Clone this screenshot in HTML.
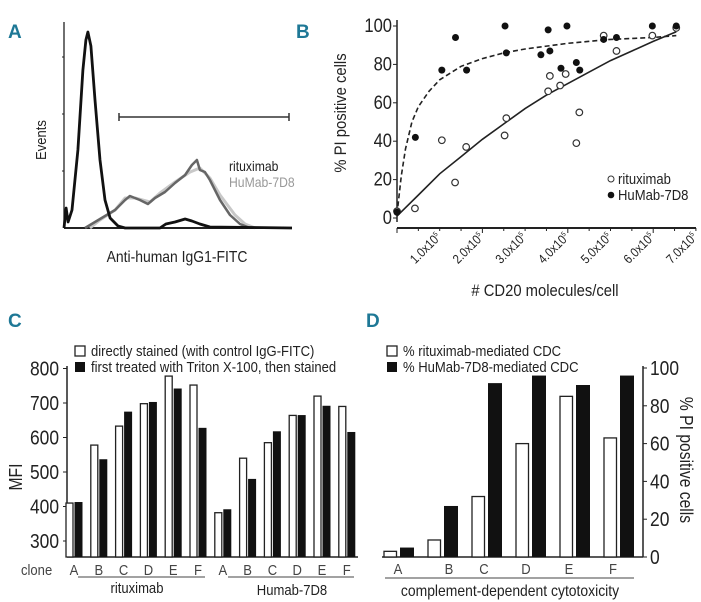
<!DOCTYPE html>
<html><head><meta charset="utf-8">
<style>
html,body{margin:0;padding:0;background:#fff;}
svg{display:block;}
text{font-family:"Liberation Sans Narrow","Liberation Sans",sans-serif;fill:#222;}
.pl{font-family:"Liberation Sans",sans-serif;font-weight:bold;fill:#1e7896;font-size:19px;}
</style></head>
<body>
<svg id="fig" width="701" height="602" viewBox="0 0 701 602" xmlns="http://www.w3.org/2000/svg">
<text class="pl" x="8" y="38">A</text>
<text class="pl" x="296" y="38">B</text>
<text class="pl" x="8" y="327">C</text>
<text class="pl" x="366" y="327">D</text>
<g id="pA"></g>
<g id="pB"></g>
<g id="pC"></g>
<g id="pD"></g>
</svg>
<script>
// ---------- Panel A data (channel 0-100, events 0-100)
const aControlX=[0,0.9,1.8,3.5,6.1,8.3,9.6,10.5,11.8,13.6,15.8,18,20.2,23.7,26.8,42.1,44.7,48.7,53.1,56.1,59.6,64,100];
const aControlY=[0,10,3,9,39,79,94,98,91,64,34,14,5,1,0,0,2,3,4.5,3.5,2,0.5,0];
const aRituxX=[9.2,13.6,18,22.4,26.8,28.9,33.3,36.8,39.9,44.3,48.7,53.1,56.1,58.3,59.6,61.8,64,68.4,72.8,77.2,81.6];
const aRituxY=[0,3,6,9,14,16,14,12,15,18,22.5,26.5,31.5,34,29,28,24,14,6.5,2,0];
const aHumabX=[11.4,15.8,22.4,26.8,31.1,37.7,42.1,48.7,55.3,59.6,64,68.4,75,79.4,83.8];
const aHumabY=[0,4,9,15,15,13,17.5,23,28,30,25,16.5,6.5,2,0];
// ---------- Panel B data (x in 1e5 molecules, y in %)
const bRituxX=[0,0.42,1.05,1.36,1.62,2.52,2.56,3.54,3.58,3.82,3.95,4.2,4.27,4.84,5.14,5.98,6.54];
const bRituxY=[3.5,5,40.5,18.5,37,43,52,66,74,69,75,39,55,95,87,95,99];
const bHumabX=[0,0.43,1.05,1.37,1.63,2.53,2.56,3.37,3.54,3.58,3.84,3.98,4.2,4.28,4.84,5.14,5.98,6.54];
const bHumabY=[3,42,77,94,77,100,86,85,98,87,78,100,81,77,93,94,100,100];
const bFitRX=[0,0.5,1,1.5,2,2.5,3,3.5,4,4.5,5,5.5,6,6.54];
const bFitRY=[1,12,23,32,41,49,57,64,70,76,82,87,92,97];
const bFitHX=[0,0.1,0.2,0.35,0.5,0.75,1,1.5,2,2.5,3,4,5,6,6.54];
const bFitHY=[2,22,36,50,58,66,72,79,83,86,88,91,93,94,95];
const bTicks=["1.0x10","2.0x10","3.0x10","4.0x10","5.0x10","6.0x10","7.0x10"];
// ---------- Panel C data
const cClones=["A","B","C","D","E","F","A","B","C","D","E","F"];
const cDirect=[410,578,633,698,778,752,382,540,585,664,720,690];
const cTriton=[413,537,675,703,742,628,392,480,618,665,692,616];
const cTicks=[300,400,500,600,700,800];
// ---------- Panel D data
const dClones=["A","B","C","D","E","F"];
const dRitux=[3,9,32,60,85,63];
const dHumab=[5,27,92,96,91,96];
const dTicks=[0,20,40,60,80,100];

const NS="http://www.w3.org/2000/svg";
function mk(parent,tag,attrs,txt){const e=document.createElementNS(NS,tag);for(const k in attrs)e.setAttribute(k,attrs[k]);if(txt!==undefined)e.textContent=txt;parent.appendChild(e);return e;}

// ===== Panel A
(function(){
const g=document.getElementById('pA');
const X=u=>64+u*2.28, Y=v=>228-v*2;
let e;
e=mk(g,'line',{x1:64,y1:22,x2:64,y2:228,stroke:'#222','stroke-width':1.3});


e=mk(g,'line',{x1:64,y1:228,x2:292,y2:228,stroke:'#222','stroke-width':2});


[57,114,171].forEach(y=>{mk(g,'line',{x1:62,y1:y,x2:64,y2:y,stroke:'#222'});});
const series=[[aHumabX,aHumabY,'#c8c8c8',3,'histogram-humab'],[aRituxX,aRituxY,'#666',2.5,'histogram-rituximab'],[aControlX,aControlY,'#111',2.8,'histogram-control']];
series.forEach(s=>{const d=s[0].map((x,i)=>(i?'L':'M')+X(x).toFixed(1)+','+Y(s[1][i]).toFixed(1)).join('');
const p=mk(g,'path',{d:d,fill:'none',stroke:s[2],'stroke-width':s[3],'stroke-linejoin':'round'});

});
e=mk(g,'path',{d:'M119,117H289M119,113V121M289,113V121',stroke:'#333','stroke-width':1.5,fill:'none'});


e=mk(g,'text',{x:229,y:171,'font-size':14},'rituximab');


e=mk(g,'text',{x:229,y:187,'font-size':14,style:'fill:#999'},'HuMab-7D8');


e=mk(g,'text',{x:0,y:0,'font-size':15,transform:'translate(46,140) rotate(-90)','text-anchor':'middle'},'Events');


e=mk(g,'text',{x:177,y:262,'font-size':16,'text-anchor':'middle'},'Anti-human IgG1-FITC');


})();

// ===== Panel B
(function(){
const g=document.getElementById('pB');
const X=v=>397+v*42.7, Y=v=>218-v*1.92;
let e;
e=mk(g,'line',{x1:397,y1:20,x2:397,y2:222,stroke:'#222','stroke-width':1.5});


e=mk(g,'line',{x1:397,y1:228,x2:696,y2:228,stroke:'#222','stroke-width':2});


for(let v=0;v<=100;v+=20){
 mk(g,'line',{x1:393,y1:Y(v),x2:397,y2:Y(v),stroke:'#222'});
 e=mk(g,'text',{x:392,y:Y(v)+6,'font-size':19,'text-anchor':'end'},String(v));
 
 
}
for(let i=0;i<=14;i++){const x=X(i*0.5);mk(g,'line',{x1:x,y1:228,x2:x,y2:i%4==0?233:231,stroke:'#222'});}
bTicks.forEach((t,i)=>{const x=X(i+1)+2;
 e=mk(g,'text',{x:0,y:0,'font-size':13,'text-anchor':'end',transform:'translate('+x+',238) rotate(-45)'});
 
 
 e.textContent=t; mk(e,'tspan',{dy:-5,'font-size':7},'5');
});
let d=bFitHX.map((x,i)=>(i?'L':'M')+X(x).toFixed(1)+','+Y(bFitHY[i]).toFixed(1)).join('');
e=mk(g,'path',{d:d,fill:'none',stroke:'#222','stroke-width':1.6,'stroke-dasharray':'5,3'});


d=bFitRX.map((x,i)=>(i?'L':'M')+X(x).toFixed(1)+','+Y(bFitRY[i]).toFixed(1)).join('');
e=mk(g,'path',{d:d,fill:'none',stroke:'#222','stroke-width':1.6});


bRituxX.forEach((x,i)=>{e=mk(g,'circle',{cx:X(x),cy:Y(bRituxY[i]),r:3.3,fill:'#fff',stroke:'#333','stroke-width':1.2});
 
 });
bHumabX.forEach((x,i)=>{e=mk(g,'circle',{cx:X(x),cy:Y(bHumabY[i]),r:3.5,fill:'#111'});
 
 });
mk(g,'circle',{cx:611,cy:179,r:3,fill:'#fff',stroke:'#333'});
e=mk(g,'text',{x:618,y:184,'font-size':15},'rituximab');


mk(g,'circle',{cx:611,cy:195,r:3.3,fill:'#111'});
e=mk(g,'text',{x:618,y:200,'font-size':15},'HuMab-7D8');


e=mk(g,'text',{x:0,y:0,'font-size':17,'text-anchor':'middle',transform:'translate(346,113) rotate(-90)'},'% PI positive cells');


e=mk(g,'text',{x:545,y:296,'font-size':17,'text-anchor':'middle'},'# CD20 molecules/cell');


})();

// ===== Panel C
(function(){
const g=document.getElementById('pC');
const Y=v=>541-(v-300)*0.345, C=i=>74+i*24.8, base=557;
let e;
e=mk(g,'line',{x1:67,y1:366,x2:67,y2:base,stroke:'#222','stroke-width':1.5});


e=mk(g,'line',{x1:67,y1:base,x2:358,y2:base,stroke:'#222','stroke-width':1.5});


cTicks.forEach(v=>{mk(g,'line',{x1:63,y1:Y(v),x2:67,y2:Y(v),stroke:'#222'});
 e=mk(g,'text',{x:59,y:Y(v)+7,'font-size':20,'text-anchor':'end'},String(v));
 
 });
cClones.forEach((c,i)=>{
 e=mk(g,'rect',{x:C(i)-8,y:Y(cDirect[i]),width:7,height:base-Y(cDirect[i]),fill:'#fff',stroke:'#222','stroke-width':1.3});
 
 
 e=mk(g,'rect',{x:C(i)+0.5,y:Y(cTriton[i]),width:8,height:base-Y(cTriton[i]),fill:'#111'});
 
 
 e=mk(g,'text',{x:C(i),y:575,'font-size':15,'text-anchor':'middle',style:'fill:#444'},c);
 
 
});
e=mk(g,'text',{x:21,y:575,'font-size':15,style:'fill:#444'},'clone');


mk(g,'line',{x1:78,y1:577,x2:205,y2:577,stroke:'#444'});
mk(g,'line',{x1:228,y1:577,x2:354,y2:577,stroke:'#444'});
e=mk(g,'text',{x:137,y:593,'font-size':15,'text-anchor':'middle'},'rituximab');


e=mk(g,'text',{x:292,y:595,'font-size':15,'text-anchor':'middle'},'Humab-7D8');


e=mk(g,'text',{x:0,y:0,'font-size':18,'text-anchor':'middle',transform:'translate(22,477) rotate(-90)'},'MFI');


mk(g,'rect',{x:75,y:346,width:10,height:10,fill:'#fff',stroke:'#222','stroke-width':1.3});
e=mk(g,'text',{x:91,y:356,'font-size':15},'directly stained (with control IgG-FITC)');


mk(g,'rect',{x:75,y:362,width:10,height:10,fill:'#111'});
e=mk(g,'text',{x:91,y:372,'font-size':15},'first treated with Triton X-100, then stained');


})();

// ===== Panel D
(function(){
const g=document.getElementById('pD');
const Y=v=>557-v*1.89, L=i=>384+i*44, base=557;
let e;
e=mk(g,'line',{x1:643,y1:366,x2:643,y2:base,stroke:'#222','stroke-width':1.5});


e=mk(g,'line',{x1:382,y1:base,x2:643,y2:base,stroke:'#222','stroke-width':1.5});


dTicks.forEach(v=>{mk(g,'line',{x1:643,y1:Y(v),x2:647,y2:Y(v),stroke:'#222'});
 e=mk(g,'text',{x:650,y:Y(v)+7,'font-size':20},String(v));
 
 });
dClones.forEach((c,i)=>{
 e=mk(g,'rect',{x:L(i),y:Y(dRitux[i]),width:12.5,height:base-Y(dRitux[i]),fill:'#fff',stroke:'#222','stroke-width':1.3});
 
 
 e=mk(g,'rect',{x:L(i)+16,y:Y(dHumab[i]),width:14,height:base-Y(dHumab[i]),fill:'#111'});
 
 
});
[398,449,484,526,569,613].forEach((x,i)=>{e=mk(g,'text',{x:x,y:574,'font-size':15,'text-anchor':'middle',style:'fill:#444'},dClones[i]);
 
 });
mk(g,'line',{x1:385,y1:578,x2:634,y2:578,stroke:'#444'});
e=mk(g,'text',{x:510,y:596,'font-size':16,'text-anchor':'middle'},'complement-dependent cytotoxicity');


e=mk(g,'text',{x:0,y:0,'font-size':18,'text-anchor':'middle',transform:'translate(680,460) rotate(90)'},'% PI positive cells');


mk(g,'rect',{x:387,y:346,width:10,height:10,fill:'#fff',stroke:'#222','stroke-width':1.3});
e=mk(g,'text',{x:403,y:356,'font-size':15},'% rituximab-mediated CDC');


mk(g,'rect',{x:387,y:362,width:10,height:10,fill:'#111'});
e=mk(g,'text',{x:403,y:372,'font-size':15},'% HuMab-7D8-mediated CDC');


})();

// condense text horizontally to mimic a narrow typeface
document.querySelectorAll('#fig text:not(.pl)').forEach(t=>{
  if(t.querySelector('tspan')) return;
  const w=t.getComputedTextLength();
  if(w>0){t.setAttribute('textLength',(w*0.87).toFixed(1));t.setAttribute('lengthAdjust','spacingAndGlyphs');}
});
document.querySelectorAll('#fig text').forEach(t=>{
  if(!t.querySelector('tspan')) return;
  const tr=t.getAttribute('transform');
  t.setAttribute('transform',tr+' scale(0.87,1)');
});
</script>
</body></html>
